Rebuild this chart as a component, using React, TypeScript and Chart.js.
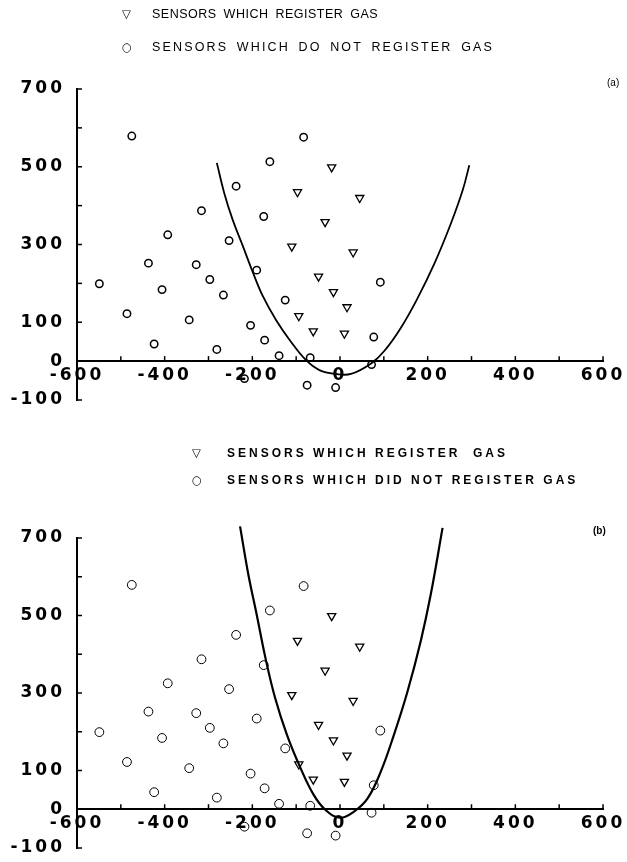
import React, { useEffect, useRef } from 'react';
import { Chart, registerables } from 'chart.js';

Chart.register(...registerables);

// Sensors which do not register gas (circles)
const CIRCLE_X = [-475, -549, -486, -424, -437, -406, -393, -344, -328, -316, -297, -281, -266, -253, -237, -218, -204, -190, -174, -172, -160, -139, -125, -83, -75, -68, -10, 72, 77, 92];
const CIRCLE_Y = [579, 199, 122, 44, 252, 184, 325, 106, 248, 387, 210, 30, 170, 310, 450, -45, 92, 234, 372, 54, 513, 14, 157, 576, -62, 9, -68, -9, 62, 203];

// Sensors which register gas (triangles)
const TRI_X = [-19, 45, -97, -34, -110, 30, -49, -15, 16, -94, -61, 10];
const TRI_Y = [499, 420, 435, 358, 295, 280, 218, 178, 139, 116, 77, 71];

// Boundary curve, panel (a)
const CURVE_A_X = [-281, -264, -245, -222, -199, -176, -146, -112, -78, -47, -9, 25, 71, 101, 139, 177, 215, 253, 280, 295];
const CURVE_A_Y = [510, 432, 364, 297, 229, 167, 106, 50, 3, -23, -33, -33, -6, 26, 86, 162, 250, 354, 440, 504];

// Boundary curve, panel (b)
const CURVE_B_X = [-228, -209, -190, -170, -148, -121, -90, -60, -33, 0, 32, 63, 93, 123, 154, 184, 207, 234];
const CURVE_B_Y = [730, 605, 502, 390, 287, 192, 106, 37, -2, -22, -6, 28, 97, 192, 304, 433, 554, 726];

const X_LABELS = [-600, -400, -200, 0, 200, 400, 600];
const Y_LABELS = [700, 500, 300, 100, 0, -100];

const toPts = (xs: number[], ys: number[]) => xs.map((x, i) => ({ x, y: ys[i] }));

const axisPlugin = {
  id: 'axisDecor',
  beforeDraw(chart: any) {
    chart.ctx.letterSpacing = '3px';
  },
  afterDraw(chart: any) {
    const ctx = chart.ctx;
    ctx.letterSpacing = '0px';
    const xs = chart.scales.x;
    const ys = chart.scales.y;
    const y0 = ys.getPixelForValue(0);
    const x0 = xs.left;
    ctx.save();
    ctx.strokeStyle = '#000';
    ctx.lineWidth = 1.5;
    xs.ticks.forEach((t: any) => {
      if (t.value === -600) return;
      const px = xs.getPixelForValue(t.value);
      ctx.beginPath();
      ctx.moveTo(px, y0);
      ctx.lineTo(px, y0 - 5);
      ctx.stroke();
    });
    ys.ticks.forEach((t: any) => {
      if (t.value === 0) return;
      const py = ys.getPixelForValue(t.value);
      ctx.beginPath();
      ctx.moveTo(x0, py);
      ctx.lineTo(x0 + 5, py);
      ctx.stroke();
    });
    ctx.restore();
  },
};

function makeConfig(panel: 'a' | 'b'): any {
  const isA = panel === 'a';
  const curve = isA ? toPts(CURVE_A_X, CURVE_A_Y) : toPts(CURVE_B_X, CURVE_B_Y);
  const tickFont = { family: '"DejaVu Sans", sans-serif', size: 17, weight: 'bold' };
  return {
    type: 'scatter',
    data: {
      datasets: [
        {
          data: curve,
          showLine: true,
          pointRadius: 0,
          borderColor: '#000',
          borderWidth: isA ? 1.8 : 2.2,
          tension: 0.4,
          clip: false,
          fill: false,
        },
        {
          data: toPts(CIRCLE_X, CIRCLE_Y),
          pointStyle: 'circle',
          pointRadius: isA ? 3.7 : 4.4,
          pointBorderWidth: isA ? 1.5 : 1,
          pointBorderColor: '#000',
          pointBackgroundColor: 'rgba(255,255,255,0)',
        },
        {
          data: toPts(TRI_X, TRI_Y),
          pointStyle: 'triangle',
          rotation: 180,
          pointRadius: 4.7,
          pointBorderWidth: 1.3,
          pointBorderColor: '#000',
          pointBackgroundColor: 'rgba(255,255,255,0)',
        },
      ],
    },
    options: {
      responsive: false,
      animation: false,
      devicePixelRatio: 1,
      events: [],
      layout: { padding: { top: isA ? 89 : 107, bottom: isA ? 31 : 14, left: 0, right: 24 } },
      plugins: { legend: { display: false }, tooltip: { enabled: false }, title: { display: false } },
      scales: {
        x: {
          type: 'linear',
          position: { y: 0 },
          min: -600,
          max: 600,
          grid: { display: false, drawTicks: false },
          border: { display: true, color: '#000', width: 2 },
          ticks: {
            stepSize: 100,
            autoSkip: false,
            maxRotation: 0,
            color: '#000',
            font: tickFont,
            padding: 4,
            callback: (v: number) => (X_LABELS.includes(v) ? String(v) : ''),
          },
          afterFit(s: any) {
            s.paddingLeft = 0; s.paddingRight = 0; s.paddingTop = 0; s.paddingBottom = 0;
          },
        },
        y: {
          type: 'linear',
          position: 'left',
          min: -100,
          max: 700,
          grid: { display: false, drawTicks: false },
          border: { display: true, color: '#000', width: 2 },
          ticks: {
            stepSize: 100,
            autoSkip: false,
            color: '#000',
            font: tickFont,
            padding: 12,
            callback: (v: number) => (Y_LABELS.includes(v) ? String(v) : ''),
          },
          afterFit(s: any) {
            s.width = 77;
            s.paddingLeft = 0; s.paddingRight = 0; s.paddingTop = 0; s.paddingBottom = 0;
          },
        },
      },
    },
    plugins: [axisPlugin],
  };
}

function Panel({ panel, top }: { panel: 'a' | 'b'; top: number }) {
  const ref = useRef<HTMLCanvasElement | null>(null);
  useEffect(() => {
    if (!ref.current) return;
    const chart = new Chart(ref.current, makeConfig(panel));
    return () => chart.destroy();
  }, [panel]);
  return (
    <canvas
      ref={ref}
      width={627}
      height={431}
      style={{ position: 'absolute', left: 0, top, width: 627, height: 431 }}
    />
  );
}

const txt = (left: number, cy: number, s: string, style: React.CSSProperties = {}) => (
  <div
    style={{
      position: 'absolute',
      left,
      top: cy - 8,
      height: 16,
      lineHeight: '16px',
      whiteSpace: 'pre',
      fontFamily: '"Liberation Sans", Arial, sans-serif',
      fontSize: 12.5,
      color: '#000',
      ...style,
    }}
  >
    {s}
  </div>
);

export default function App() {
  const sym: React.CSSProperties = { fontFamily: '"DejaVu Sans", sans-serif', fontSize: 11.5 };
  return (
    <div style={{ position: 'absolute', left: 0, top: 0, width: 627, height: 862, background: '#fff', overflow: 'hidden' }}>
      <Panel panel="a" top={0} />
      <Panel panel="b" top={431} />
      {txt(122, 14, '▽', sym)}
      {txt(152, 14, 'SENSORS WHICH REGISTER GAS', { letterSpacing: '0.5px', wordSpacing: '3px' })}
      {txt(122, 47, '○', sym)}
      {txt(152, 47, 'SENSORS WHICH DO NOT REGISTER GAS', { letterSpacing: '2.15px', wordSpacing: '3px' })}
      {txt(607, 83, '(a)', { fontSize: 10 })}
      {txt(593, 531, '(b)', { fontSize: 10, fontWeight: 'bold' })}
      {txt(192, 453, '▽', sym)}
      {txt(227, 453, 'SENSORS WHICH REGISTER  GAS', { letterSpacing: '3px', fontWeight: 'bold', fontSize: 12 })}
      {txt(192, 480, '○', sym)}
      {txt(227, 480, 'SENSORS WHICH DID NOT REGISTER GAS', { letterSpacing: '3px', fontWeight: 'bold', fontSize: 12 })}
    </div>
  );
}
